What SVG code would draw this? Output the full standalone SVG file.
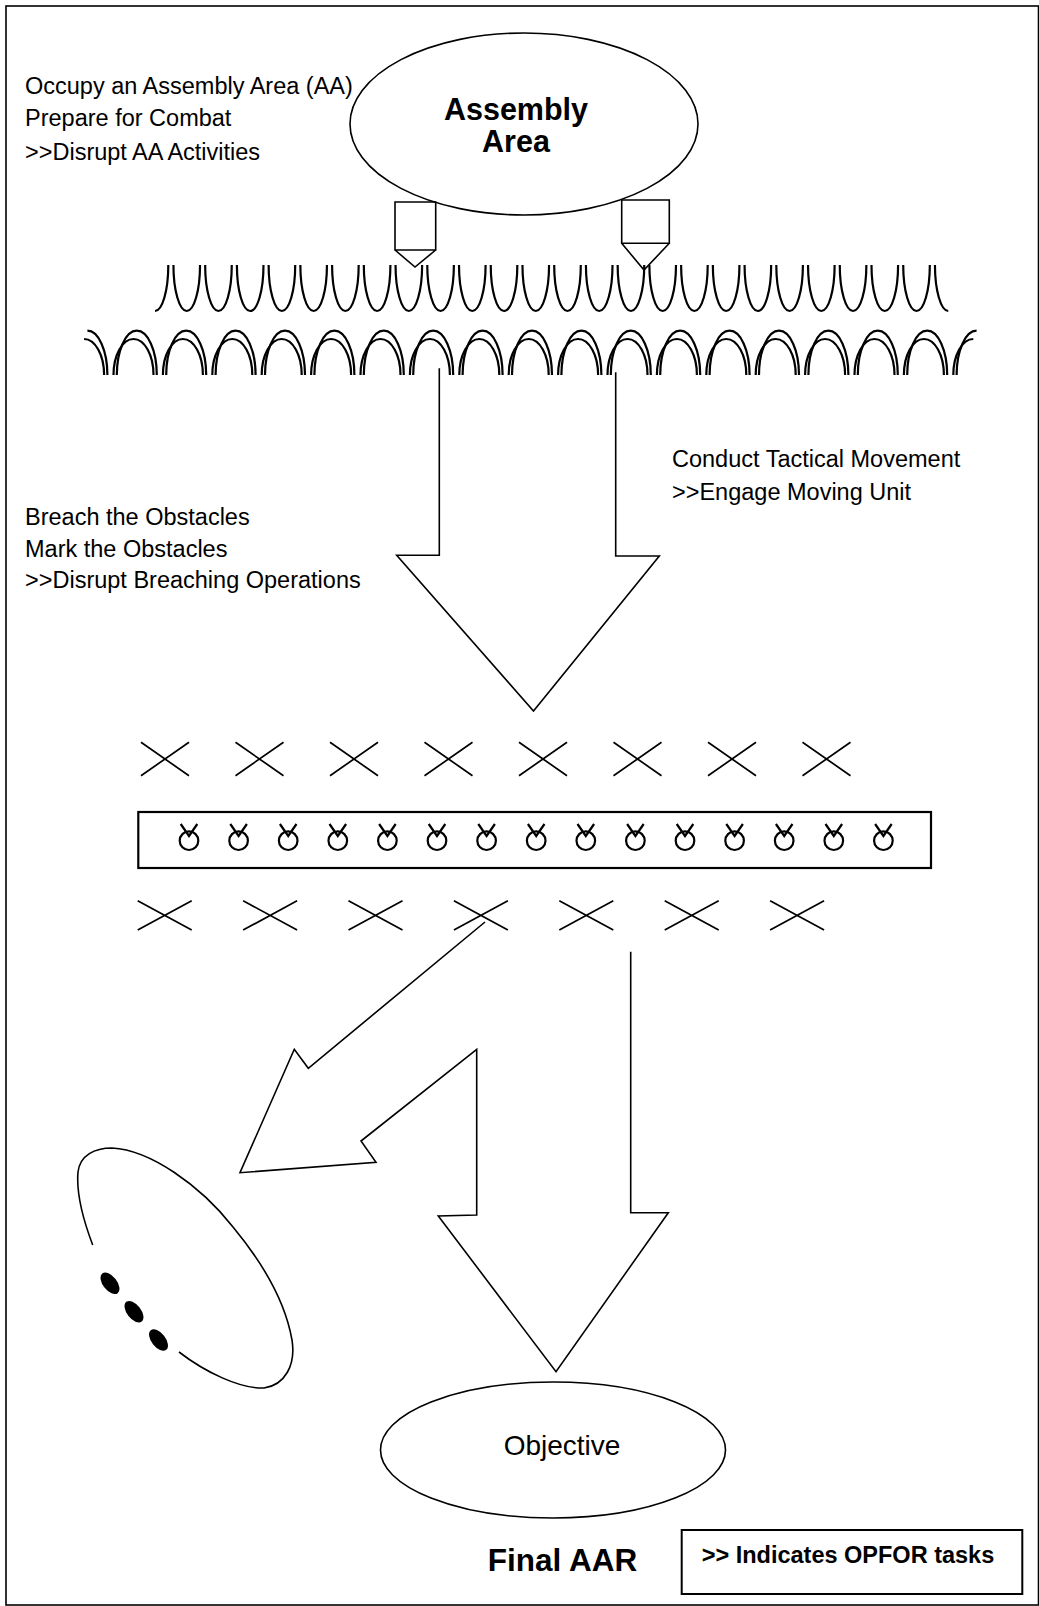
<svg xmlns="http://www.w3.org/2000/svg" width="1039" height="1606" viewBox="0 0 1039 1606">
<style>
.ln{fill:none;stroke:#000;stroke-width:1.6;stroke-linejoin:miter}
.wire{fill:none;stroke:#000;stroke-width:2.2}
.xm{fill:none;stroke:#000;stroke-width:1.7}
.mine{fill:none;stroke:#000;stroke-width:2.2}
.t{font-family:"Liberation Sans",Arial,sans-serif;font-size:23.5px;fill:#000}
.b{font-weight:bold}
.aa{font-size:30.5px}
.obj{font-size:28px}
.far{font-size:31.5px}
</style>
<defs>
<path id="u" d="M-13.3,0 A13.3 46 0 0 0 13.3,0"/>
<g id="arch"><path d="M-20,0 A20 36 0 0 1 20,0"/><path d="M-16.7,0 A20 44.3 0 0 1 23.3,0"/></g>
<path id="x1" d="M-24,-16.7 L24,16.7 M-24,16.7 L24,-16.7"/>
<path id="x2" d="M-27,-14.7 L27,14.7 M-27,14.7 L27,-14.7"/>
<g id="m"><circle r="9.3"/><path d="M-8.3,-16.7 L0,-4.7 L8.3,-16.7"/></g>
</defs>
<rect x="6" y="6" width="1032.5" height="1599" fill="#fff" stroke="#000" stroke-width="1.6"/>

<g id="assembly-area">
<ellipse class="ln" cx="524" cy="124" rx="174" ry="91"/>
<text class="t b aa" x="516" y="120" text-anchor="middle">Assembly</text>
<text class="t b aa" x="516" y="152" text-anchor="middle">Area</text>
</g>

<g id="exits">
<path class="ln" d="M395,202 H435.7 V250 H395 Z M395,250 L415,267 L435.7,250"/>
<path class="ln" d="M621.7,200 H669.3 V243.3 H621.7 Z M621.7,243.3 L644,270 L669.3,243.3"/>
</g>

<g id="wire-obstacle" class="wire">
<path d="M155,311 A13.3 46 0 0 0 168.3,265"/>
<use href="#u" x="186.73" y="265"/><use href="#u" x="218.46" y="265"/><use href="#u" x="250.19" y="265"/><use href="#u" x="281.92" y="265"/>
<use href="#u" x="313.65" y="265"/><use href="#u" x="345.38" y="265"/><use href="#u" x="377.11" y="265"/><use href="#u" x="408.84" y="265"/>
<use href="#u" x="440.57" y="265"/><use href="#u" x="472.3" y="265"/><use href="#u" x="504.03" y="265"/><use href="#u" x="535.76" y="265"/>
<use href="#u" x="567.49" y="265"/><use href="#u" x="599.22" y="265"/><use href="#u" x="630.95" y="265"/><use href="#u" x="662.68" y="265"/>
<use href="#u" x="694.41" y="265"/><use href="#u" x="726.14" y="265"/><use href="#u" x="757.87" y="265"/><use href="#u" x="789.6" y="265"/>
<use href="#u" x="821.33" y="265"/><use href="#u" x="853.06" y="265"/><use href="#u" x="884.79" y="265"/><use href="#u" x="916.52" y="265"/>
<path d="M934.95,265 A13.3 46 0 0 0 948.25,311"/>

<path d="M84.1,339 A20 36 0 0 1 104.1,375"/><path d="M87.4,330.7 A20 44.3 0 0 1 107.4,375"/>
<use href="#arch" x="133.5" y="375"/><use href="#arch" x="182.9" y="375"/><use href="#arch" x="232.3" y="375"/><use href="#arch" x="281.7" y="375"/>
<use href="#arch" x="331.1" y="375"/><use href="#arch" x="380.5" y="375"/><use href="#arch" x="429.9" y="375"/><use href="#arch" x="479.3" y="375"/>
<use href="#arch" x="528.7" y="375"/><use href="#arch" x="578.1" y="375"/><use href="#arch" x="627.5" y="375"/><use href="#arch" x="676.9" y="375"/>
<use href="#arch" x="726.3" y="375"/><use href="#arch" x="775.7" y="375"/><use href="#arch" x="825.1" y="375"/><use href="#arch" x="874.5" y="375"/>
<use href="#arch" x="923.9" y="375"/>
<path d="M953.3,375 A20 36 0 0 1 973.3,339"/><path d="M956.6,375 A20 44.3 0 0 1 976.6,330.7"/>
</g>

<g id="minefield">
<g class="xm">
<use href="#x1" x="165" y="759"/><use href="#x1" x="259.5" y="759"/><use href="#x1" x="354" y="759"/><use href="#x1" x="448.5" y="759"/>
<use href="#x1" x="543" y="759"/><use href="#x1" x="637.5" y="759"/><use href="#x1" x="732" y="759"/><use href="#x1" x="826.5" y="759"/>
<use href="#x2" x="164.7" y="915.4"/><use href="#x2" x="270.1" y="915.4"/><use href="#x2" x="375.5" y="915.4"/><use href="#x2" x="480.9" y="915.4"/>
<use href="#x2" x="586.3" y="915.4"/><use href="#x2" x="691.7" y="915.4"/><use href="#x2" x="797.1" y="915.4"/>
</g>
<rect x="138.3" y="812" width="792.7" height="56" fill="none" stroke="#000" stroke-width="2.2"/>
<g class="mine">
<use href="#m" x="189" y="840.7"/><use href="#m" x="238.6" y="840.7"/><use href="#m" x="288.2" y="840.7"/><use href="#m" x="337.8" y="840.7"/>
<use href="#m" x="387.4" y="840.7"/><use href="#m" x="437" y="840.7"/><use href="#m" x="486.6" y="840.7"/><use href="#m" x="536.2" y="840.7"/>
<use href="#m" x="585.8" y="840.7"/><use href="#m" x="635.4" y="840.7"/><use href="#m" x="685" y="840.7"/><use href="#m" x="734.6" y="840.7"/>
<use href="#m" x="784.2" y="840.7"/><use href="#m" x="833.8" y="840.7"/><use href="#m" x="883.4" y="840.7"/>
</g>
</g>

<g id="connectors" class="ln">
<path d="M439.3,368.3 V555.3 H396.7 L533.5,711 L659.3,556 H615.7 V372.3"/>
<path d="M485,922 L308.3,1068.3 L294.3,1049.3 L240,1172.7 L376,1162.3 L361,1141 L476.7,1049.3 V1215 L438.3,1216 L556,1371.7 L668.3,1212.7 H630.7 V951.7"/>
</g>

<g id="support-position">
<path class="ln" d="M92.7,1245 C84,1222 76,1195 78,1172 C80,1155 95,1148 112,1148 C150,1150 200,1185 233,1227 C262,1262 285,1300 292,1340 C296,1365 285,1385 264,1388 C240,1389 205,1372 179,1352"/>
<ellipse cx="110" cy="1283.3" rx="12.5" ry="7" transform="rotate(52 110 1283.3)"/>
<ellipse cx="134" cy="1311.7" rx="12.5" ry="7" transform="rotate(52 134 1311.7)"/>
<ellipse cx="158.5" cy="1340" rx="12.5" ry="7" transform="rotate(52 158.5 1340)"/>
</g>

<g id="objective">
<ellipse class="ln" cx="553" cy="1450" rx="172.5" ry="68"/>
<text class="t obj" x="562" y="1455" text-anchor="middle">Objective</text>
</g>

<g id="aa-tasks">
<text class="t" x="25" y="94">Occupy an Assembly Area (AA)</text>
<text class="t" x="25" y="126">Prepare for Combat</text>
<text class="t" x="25" y="159.5">&gt;&gt;Disrupt AA Activities</text>
</g>
<g id="movement-tasks">
<text class="t" x="672" y="467">Conduct Tactical Movement</text>
<text class="t" x="672" y="500">&gt;&gt;Engage Moving Unit</text>
</g>
<g id="breach-tasks">
<text class="t" x="25" y="525">Breach the Obstacles</text>
<text class="t" x="25" y="556.5">Mark the Obstacles</text>
<text class="t" x="25" y="587.5">&gt;&gt;Disrupt Breaching Operations</text>
</g>
<g id="final-aar">
<text class="t b far" x="562.5" y="1571" text-anchor="middle">Final AAR</text>
</g>
<g id="legend">
<rect x="681.7" y="1530" width="340.6" height="64" fill="none" stroke="#000" stroke-width="2"/>
<text class="t b" x="701.7" y="1563">&gt;&gt; Indicates OPFOR tasks</text>
</g>
</svg>
